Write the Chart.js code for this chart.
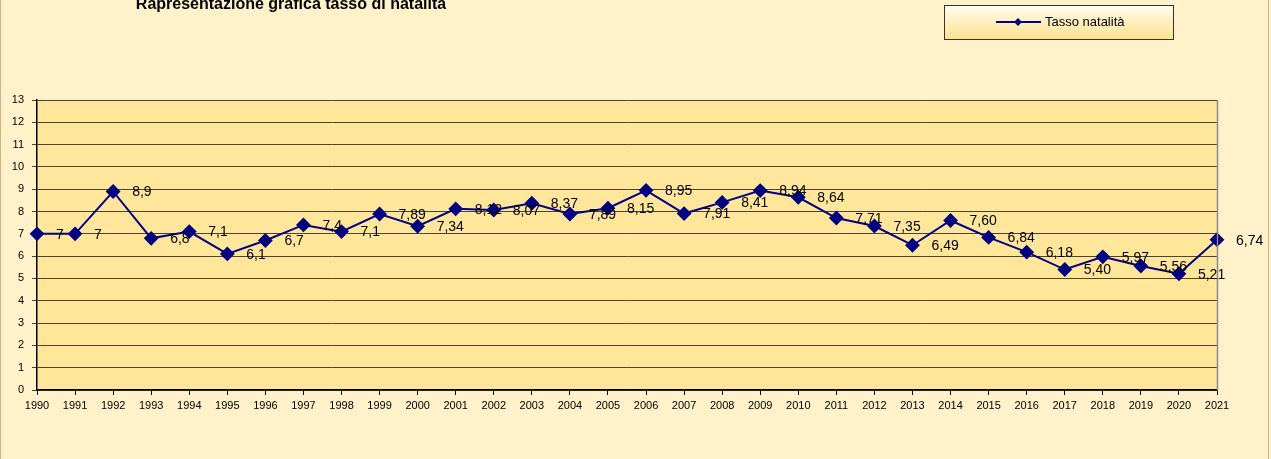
<!DOCTYPE html>
<html>
<head>
<meta charset="utf-8">
<script src="https://cdn.jsdelivr.net/npm/chart.js@4"></script>
<style>
  html, body { margin: 0; padding: 0; background: #FFF2CC; }
  #wrap { position: relative; width: 1271px; height: 459px; }
</style>
</head>
<body>
<div id="wrap"><canvas id="myChart" width="1271" height="459"></canvas></div>
<script>
"use strict";

var years = ["1990", "1991", "1992", "1993", "1994", "1995", "1996", "1997", "1998", "1999",
  "2000", "2001", "2002", "2003", "2004", "2005", "2006", "2007", "2008", "2009",
  "2010", "2011", "2012", "2013", "2014", "2015", "2016", "2017", "2018", "2019",
  "2020", "2021"];
var natalita = [7, 7, 8.9, 6.8, 7.1, 6.1, 6.7, 7.4, 7.1, 7.89,
  7.34, 8.12, 8.07, 8.37, 7.89, 8.15, 8.95, 7.91, 8.41, 8.94,
  8.64, 7.71, 7.35, 6.49, 7.60, 6.84, 6.18, 5.40, 5.97, 5.56,
  5.21, 6.74];
var valueLabels = ["7", "7", "8,9", "6,8", "7,1", "6,1", "6,7", "7,4", "7,1", "7,89",
  "7,34", "8,12", "8,07", "8,37", "7,89", "8,15", "8,95", "7,91", "8,41", "8,94",
  "8,64", "7,71", "7,35", "6,49", "7,60", "6,84", "6,18", "5,40", "5,97", "5,56",
  "5,21", "6,74"];
var seriesName = "Tasso natalità";
var chartTitle = "Rapresentazione grafica tasso di natalità";

var FONT = "'Liberation Sans', Arial, sans-serif";
var NAVY = "#000080";

// background, frame, title and legend box
var decorations = {
  id: "decorations",
  beforeDraw: function (chart) {
    var ctx = chart.ctx;
    var area = chart.chartArea;
    ctx.save();
    ctx.fillStyle = "#FFF1CA";
    ctx.fillRect(0, 0, chart.width, chart.height);
    // page frame
    ctx.strokeStyle = "#C9B68E";
    ctx.lineWidth = 1;
    ctx.beginPath();
    ctx.moveTo(0.5, 0);
    ctx.lineTo(0.5, chart.height);
    ctx.moveTo(1268.5, 0);
    ctx.lineTo(1268.5, chart.height);
    ctx.stroke();
    // plot area
    var g = ctx.createLinearGradient(area.left, area.top, area.left, area.bottom);
    g.addColorStop(0, "#FFE79C");
    g.addColorStop(1, "#FFE597");
    ctx.fillStyle = g;
    ctx.fillRect(area.left, area.top, area.right - area.left, area.bottom - area.top);
    ctx.restore();
  },
  afterDraw: function (chart) {
    var ctx = chart.ctx;
    var area = chart.chartArea;
    ctx.save();
    // plot area right border
    ctx.strokeStyle = "#8C8C8C";
    ctx.lineWidth = 1.5;
    ctx.beginPath();
    ctx.moveTo(area.right + 0.5, area.top);
    ctx.lineTo(area.right + 0.5, area.bottom);
    ctx.stroke();

    // title
    ctx.fillStyle = "#000000";
    ctx.font = "bold 16px " + FONT;
    ctx.textAlign = "center";
    ctx.textBaseline = "alphabetic";
    ctx.fillText(chartTitle, 291, 9);

    // legend box
    var lg = ctx.createLinearGradient(0, 5, 0, 39);
    lg.addColorStop(0, "#FFFDF3");
    lg.addColorStop(1, "#FFE28C");
    ctx.fillStyle = lg;
    ctx.fillRect(944, 5, 229, 34);
    ctx.strokeStyle = "#333333";
    ctx.lineWidth = 1;
    ctx.strokeRect(944.5, 5.5, 229, 34);
    ctx.strokeStyle = NAVY;
    ctx.lineWidth = 2;
    ctx.beginPath();
    ctx.moveTo(996, 22);
    ctx.lineTo(1041, 22);
    ctx.stroke();
    ctx.fillStyle = NAVY;
    ctx.beginPath();
    ctx.moveTo(1018, 18);
    ctx.lineTo(1022, 22);
    ctx.lineTo(1018, 26);
    ctx.lineTo(1014, 22);
    ctx.closePath();
    ctx.fill();
    ctx.fillStyle = "#000000";
    ctx.font = "13px " + FONT;
    ctx.textAlign = "left";
    ctx.textBaseline = "middle";
    ctx.fillText(seriesName, 1045, 22);

    // data labels, to the right of each point
    var meta = chart.getDatasetMeta(0);
    ctx.font = "14px " + FONT;
    ctx.fillStyle = "#000000";
    ctx.textAlign = "left";
    ctx.textBaseline = "middle";
    meta.data.forEach(function (pt, i) {
      ctx.fillText(valueLabels[i], pt.x + 19, pt.y + 1);
    });
    ctx.restore();
  }
};

var ctx = document.getElementById("myChart").getContext("2d");
var myChart = new Chart(ctx, {
  type: "line",
  data: {
    labels: years,
    datasets: [
      {
        label: seriesName,
        data: natalita,
        borderColor: NAVY,
        borderWidth: 2,
        backgroundColor: NAVY,
        pointStyle: "rectRot",
        pointRadius: 6,
        pointBackgroundColor: NAVY,
        pointBorderColor: NAVY,
        tension: 0,
        clip: false
      }
    ]
  },
  options: {
    responsive: false,
    animation: false,
    layout: {
      padding: { left: 0, top: 100, right: 54, bottom: 0 }
    },
    plugins: {
      legend: { display: false },
      title: { display: false },
      tooltip: { enabled: false }
    },
    scales: {
      x: {
        offset: false,
        afterFit: function (scale) { scale.height = 69; },
        grid: {
          drawOnChartArea: false,
          drawTicks: true,
          tickLength: 5,
          color: "#000000"
        },
        border: { color: "#000000", width: 1.5 },
        ticks: {
          color: "#000000",
          font: { family: FONT, size: 11 },
          maxRotation: 0,
          autoSkip: false,
          padding: 4
        }
      },
      y: {
        min: 0,
        max: 13,
        afterFit: function (scale) { scale.width = 37; },
        grid: {
          color: "#4A4434",
          lineWidth: 1,
          drawTicks: true,
          tickLength: 5
        },
        border: { color: "#000000", width: 1.5 },
        ticks: {
          stepSize: 1,
          color: "#000000",
          font: { family: FONT, size: 11 },
          padding: 8
        }
      }
    }
  },
  plugins: [decorations]
});
</script>
</body>
</html>
